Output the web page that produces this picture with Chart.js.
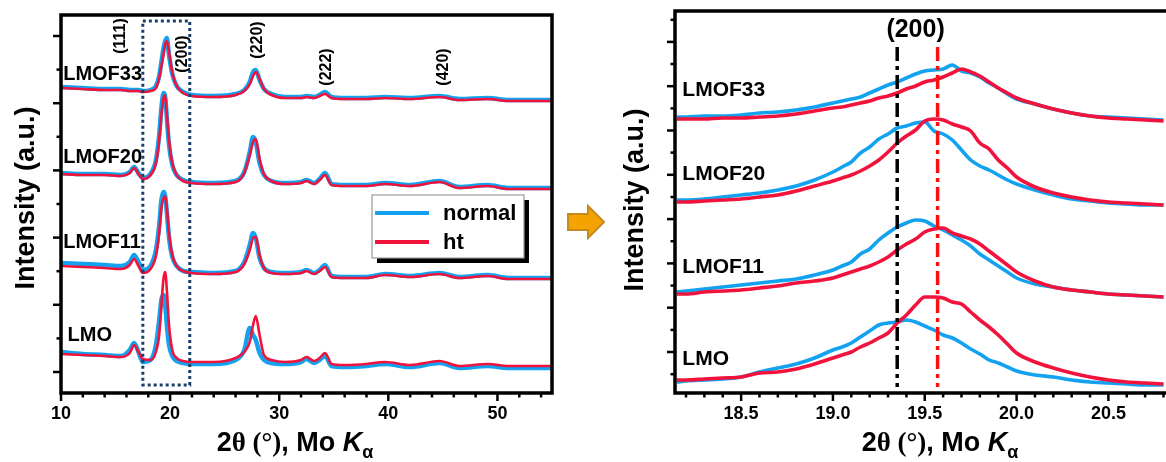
<!DOCTYPE html>
<html>
<head>
<meta charset="utf-8">
<script src="https://cdn.jsdelivr.net/npm/chart.js@4.4.0/dist/chart.umd.min.js"></script>
<style>
  html, body { margin: 0; padding: 0; background: #fff; overflow: hidden; }
  body { width: 1166px; height: 462px; position: relative; }
  #wrapL { position: absolute; left: 0; top: 0; width: 570px; height: 462px; }
  #wrapR { position: absolute; left: 600px; top: 0; width: 575px; height: 462px; }
  #arrow { position: absolute; left: 564px; top: 202px; z-index: 2; }
</style>
</head>
<body>
<div id="wrapL"><canvas id="xrdFull"></canvas></div>
<div id="wrapR"><canvas id="xrdZoom"></canvas></div>
<svg id="arrow" width="46" height="42" viewBox="0 0 46 42">
  <polygon points="4,12 24,12 24,4 40,20 24,36 24,28 4,28" fill="#f5a300" stroke="#c8891c" stroke-width="2"/>
</svg>

<script>
'use strict';

// ── Full pattern, 2θ = 10–55° ─────────────────────────────
const XL = [10, 12, 14, 15.5, 16.3, 16.7, 17.1, 17.5, 18.2, 18.7, 19.0, 19.2, 19.4, 19.55, 19.7,
  19.9, 20.2, 20.6, 21.2, 22, 24, 26, 26.8, 27.3, 27.6, 27.85, 28.2, 28.6, 29.3, 30.5,
  32, 32.5, 33.2, 33.7, 34.2, 34.8, 36, 38, 39.7, 42, 44.7, 46.5, 49.1, 51, 55];

const L_LMOF33_N  = [3060, 3050, 3040, 3040, 3030, 3030, 3030, 3020, 3030, 3070, 3170, 3310, 3450, 3520, 3550,
  3380, 3190, 3070, 3010, 2980, 2970, 2990, 3030, 3110, 3210, 3230, 3130, 3040, 2990, 2960,
  2960, 2970, 2960, 2980, 3010, 2960, 2950, 2950, 2960, 2950, 2970, 2940, 2950, 2930, 2930];
const L_LMOF33_HT = [3050, 3040, 3030, 3030, 3020, 3020, 3020, 3010, 3020, 3050, 3150, 3270, 3390, 3490, 3520,
  3410, 3200, 3070, 3000, 2970, 2960, 2980, 3020, 3090, 3170, 3210, 3140, 3040, 2980, 2950,
  2950, 2960, 2950, 2970, 2990, 2950, 2940, 2940, 2950, 2940, 2960, 2930, 2940, 2920, 2920];
const L_LMOF20_N  = [2200, 2190, 2190, 2180, 2210, 2260, 2200, 2150, 2190, 2330, 2580, 2850, 3000, 2960, 2750,
  2480, 2280, 2180, 2130, 2110, 2100, 2120, 2210, 2410, 2560, 2510, 2300, 2180, 2120, 2100,
  2110, 2130, 2100, 2140, 2200, 2090, 2080, 2080, 2100, 2080, 2120, 2060, 2080, 2050, 2050];
const L_LMOF20_HT = [2190, 2180, 2180, 2170, 2200, 2250, 2190, 2140, 2180, 2300, 2530, 2780, 2950, 2980, 2790,
  2530, 2300, 2180, 2120, 2100, 2090, 2110, 2200, 2380, 2510, 2540, 2340, 2190, 2120, 2090,
  2100, 2120, 2090, 2130, 2180, 2080, 2070, 2070, 2090, 2070, 2110, 2050, 2070, 2040, 2040];
const L_LMOF11_N  = [1300, 1290, 1280, 1270, 1310, 1380, 1310, 1230, 1270, 1430, 1680, 1930, 2010, 1970, 1810,
  1550, 1360, 1270, 1220, 1210, 1200, 1220, 1310, 1480, 1600, 1550, 1350, 1250, 1210, 1200,
  1210, 1230, 1200, 1230, 1280, 1170, 1160, 1160, 1190, 1170, 1200, 1160, 1180, 1150, 1150];
const L_LMOF11_HT = [1270, 1260, 1250, 1240, 1280, 1340, 1270, 1200, 1240, 1370, 1600, 1850, 1950, 1970, 1850,
  1600, 1380, 1270, 1220, 1200, 1190, 1210, 1290, 1430, 1550, 1560, 1380, 1250, 1200, 1190,
  1200, 1220, 1190, 1220, 1260, 1160, 1150, 1150, 1180, 1160, 1190, 1150, 1170, 1140, 1140];
const L_LMO_N     = [410, 390, 380, 370, 430, 500, 410, 310, 330, 480, 730, 930, 980, 880, 680,
  480, 370, 320, 300, 290, 290, 330, 430, 650, 580, 530, 400, 330, 300, 290,
  310, 340, 300, 330, 370, 270, 260, 270, 290, 260, 300, 250, 270, 250, 250];
const L_LMO_HT    = [390, 380, 370, 360, 400, 480, 410, 340, 330, 410, 580, 880, 1150, 1210, 1030,
  680, 430, 350, 320, 310, 310, 350, 410, 510, 680, 770, 580, 380, 330, 310,
  330, 360, 320, 350, 400, 290, 280, 290, 310, 280, 320, 270, 290, 270, 270];

// ── (200) region, 2θ = 18.15–20.8° ───────────────────────
const XR = [18.15, 18.2, 18.3, 18.4, 18.5, 18.6, 18.7, 18.8, 18.9,
  19.0, 19.05, 19.1, 19.15, 19.2, 19.25, 19.3, 19.35, 19.4, 19.45, 19.5,
  19.55, 19.6, 19.65, 19.7, 19.75, 19.8, 19.85, 19.9, 19.95, 20.0,
  20.1, 20.2, 20.3, 20.4, 20.5, 20.6, 20.7, 20.8];

const R_LMOF33_N  = [2760, 2760, 2770, 2770, 2780, 2800, 2810, 2830, 2860, 2900, 2920, 2940, 2960, 3000, 3040,
  3080, 3110, 3150, 3190, 3220, 3230, 3240, 3280, 3220, 3200, 3160, 3100, 3050, 2990, 2940,
  2890, 2840, 2800, 2770, 2760, 2750, 2740, 2730];
const R_LMOF33_HT = [2740, 2740, 2740, 2750, 2750, 2760, 2770, 2790, 2820, 2850, 2860, 2880, 2900, 2920, 2950,
  2970, 3000, 3040, 3070, 3110, 3130, 3160, 3200, 3240, 3210, 3170, 3110, 3050, 3000, 2950,
  2890, 2840, 2800, 2770, 2750, 2740, 2730, 2720];
const R_LMOF20_N  = [1930, 1930, 1940, 1960, 1980, 2000, 2030, 2070, 2130, 2210, 2260, 2310, 2400, 2460, 2540,
  2590, 2650, 2670, 2700, 2710, 2620, 2590, 2530, 2430, 2330, 2270, 2230, 2180, 2130, 2090,
  2030, 1980, 1940, 1920, 1900, 1890, 1880, 1880];
const R_LMOF20_HT = [1910, 1910, 1920, 1930, 1940, 1960, 1980, 2020, 2070, 2120, 2150, 2180, 2220, 2270, 2330,
  2410, 2500, 2570, 2630, 2720, 2740, 2730, 2690, 2660, 2620, 2500, 2440, 2330, 2250, 2160,
  2060, 2000, 1960, 1930, 1910, 1900, 1890, 1880];
const R_LMOF11_N  = [1010, 1020, 1040, 1060, 1080, 1100, 1120, 1140, 1180, 1230, 1270, 1310, 1390, 1440, 1530,
  1600, 1660, 1700, 1730, 1720, 1670, 1630, 1580, 1530, 1470, 1390, 1330, 1270, 1210, 1150,
  1090, 1060, 1030, 1010, 990, 980, 970, 960];
const R_LMOF11_HT = [990, 990, 1010, 1020, 1030, 1050, 1070, 1100, 1120, 1150, 1180, 1210, 1240, 1270, 1310,
  1360, 1430, 1490, 1540, 1610, 1640, 1650, 1600, 1570, 1540, 1490, 1420, 1350, 1280, 1210,
  1120, 1060, 1030, 1010, 990, 980, 970, 960];
const R_LMO_N     = [110, 120, 130, 140, 160, 210, 250, 290, 350, 430, 460, 500, 560, 620, 680,
  700, 710, 730, 710, 670, 630, 580, 550, 500, 440, 390, 330, 300, 260, 220,
  180, 160, 130, 110, 100, 90, 80, 80];
const R_LMO_HT    = [130, 130, 140, 150, 160, 200, 210, 240, 290, 350, 380, 410, 460, 500, 550,
  600, 700, 780, 880, 960, 960, 950, 910, 890, 810, 730, 660, 580, 490, 400,
  310, 250, 200, 160, 130, 110, 100, 90];

// ── Ticks ─────────────────────────────────────────────────
const L_X_MAJOR = [10, 20, 30, 40, 50];
const L_X_MINOR = [12, 14, 16, 18, 22, 24, 26, 28, 32, 34, 36, 38, 42, 44, 46, 48, 52, 54];
const L_Y_MAJOR = [210, 882, 1554, 2226, 2898, 3570];
const L_Y_MINOR = [546, 1218, 1890, 2562, 3234];
const R_X_MAJOR = [18.5, 19.0, 19.5, 20.0, 20.5];
const R_X_MINOR = [18.2, 18.3, 18.4, 18.6, 18.7, 18.8, 18.9, 19.1, 19.2, 19.3, 19.4,
  19.6, 19.7, 19.8, 19.9, 20.1, 20.2, 20.3, 20.4, 20.6, 20.7, 20.8];
const R_Y_MAJOR = [410, 853, 1296, 1739, 2182, 2625, 3068, 3511];
const R_Y_MINOR = [188, 631, 1074, 1518, 1960, 2404, 2846, 3290, 3732];

// ── Peak positions / reference lines ─────────────────────
const HKL_LABELS = ['(111)', '(200)', '(220)', '(222)', '(420)'];
const HKL_POS    = [15.5, 21.1, 28.0, 34.3, 45.1];
const HKL_Y      = [3570, 3390, 3530, 3260, 3260];
const REF_200    = [19.35, 19.57];      // normal, ht

const SAMPLES   = ['LMOF33', 'LMOF20', 'LMOF11', 'LMO'];
const L_LABEL_Y = [3190, 2360, 1510, 580];
const R_LABEL_Y = [3030, 2190, 1260, 340];

// ── Style ─────────────────────────────────────────────────
const BLUE  = '#12a2f0';
const RED   = '#f2133c';
const SANS  = '"Liberation Sans", Arial, sans-serif';
const SERIF = '"Liberation Serif", "Times New Roman", serif';

const X_TITLE = [
  ['2', `bold 27px ${SANS}`, 0],
  ['θ (°)', `bold 27px ${SERIF}`, 0],
  [', Mo ', `bold 27px ${SANS}`, 0],
  ['K', `italic bold 27px ${SANS}`, 0],
  ['α', `bold 18px ${SANS}`, 7]
];

function pts(xs, ys) {
  return xs.map((x, i) => ({ x, y: ys[i] }));
}

function series(xs, normal, ht, wN, wH) {
  const out = [];
  normal.forEach((ys, i) => {
    out.push({ label: 'ht', data: pts(xs, ht[i]), borderColor: RED, borderWidth: wH, order: 0 });
    out.push({ label: 'normal', data: pts(xs, ys), borderColor: BLUE, borderWidth: wN, order: 1 });
  });
  out.forEach(d => {
    d.pointRadius = 0;
    d.fill = false;
    d.cubicInterpolationMode = 'monotone';
  });
  return out;
}

// ── Frame, ticks, annotations, titles, legend ────────────
function makeDecor(o) {
  return {
    id: 'xrdDecor',
    afterDatasetsDraw(chart) {
      const { ctx, scales: { x, y } } = chart;
      ctx.save();
      (o.boxes || []).forEach(b => {
        const x0 = x.getPixelForValue(b.x0), x1 = x.getPixelForValue(b.x1);
        const y0 = y.getPixelForValue(b.y1), y1 = y.getPixelForValue(b.y0);
        ctx.strokeStyle = b.color;
        ctx.lineWidth = 3;
        ctx.setLineDash([3, 3]);
        ctx.strokeRect(x0, y0, x1 - x0, y1 - y0);
      });
      (o.vlines || []).forEach(l => {
        const px = x.getPixelForValue(l.x);
        ctx.strokeStyle = l.color;
        ctx.lineWidth = 3.5;
        ctx.setLineDash([14, 5, 4, 5]);
        ctx.beginPath();
        ctx.moveTo(px, y.getPixelForValue(l.y1));
        ctx.lineTo(px, y.getPixelForValue(l.y0));
        ctx.stroke();
      });
      ctx.restore();
    },
    afterDraw(chart) {
      const { ctx, chartArea: a, scales: { x, y } } = chart;
      ctx.save();
      ctx.setLineDash([]);
      ctx.strokeStyle = '#000';

      // box
      ctx.lineWidth = 3.5;
      ctx.strokeRect(a.left, a.top, a.right - a.left, a.bottom - a.top);

      // tick marks (outside)
      ctx.lineWidth = 2.5;
      const tick = (px, py, dx, dy) => {
        ctx.beginPath(); ctx.moveTo(px, py); ctx.lineTo(px + dx, py + dy); ctx.stroke();
      };
      o.xMajor.forEach(v => tick(x.getPixelForValue(v), a.bottom, 0, 8));
      o.xMinor.forEach(v => tick(x.getPixelForValue(v), a.bottom, 0, 4.5));
      o.yMajor.forEach(v => tick(a.left, y.getPixelForValue(v), -8, 0));
      o.yMinor.forEach(v => tick(a.left, y.getPixelForValue(v), -4.5, 0));

      // text notes in data coordinates
      ctx.fillStyle = '#000';
      (o.notes || []).forEach(n => {
        const px = x.getPixelForValue(n.x), py = y.getPixelForValue(n.y);
        ctx.font = n.font;
        ctx.textAlign = n.align || 'left';
        ctx.textBaseline = 'middle';
        if (n.rotate) {
          ctx.save();
          ctx.translate(px, py);
          ctx.rotate(-Math.PI / 2);
          ctx.fillText(n.text, 0, 0);
          ctx.restore();
        } else {
          ctx.fillText(n.text, px, py);
        }
      });

      // y title
      const yt = o.yTitle;
      ctx.save();
      ctx.translate(yt.cx, yt.cy);
      ctx.rotate(-Math.PI / 2);
      ctx.font = yt.font;
      ctx.textAlign = 'center';
      ctx.textBaseline = 'middle';
      ctx.fillText(yt.text, 0, 0);
      ctx.restore();

      // x title, mixed fonts
      const xt = o.xTitle;
      ctx.textAlign = 'left';
      ctx.textBaseline = 'alphabetic';
      let w = 0;
      X_TITLE.forEach(([t, f]) => { ctx.font = f; w += ctx.measureText(t).width; });
      let cx = xt.cx - w / 2;
      X_TITLE.forEach(([t, f, dy]) => {
        ctx.font = f;
        ctx.fillText(t, cx, xt.base + dy);
        cx += ctx.measureText(t).width;
      });

      // legend with drop shadow
      const lg = o.legend;
      if (lg) {
        ctx.fillStyle = '#000';
        ctx.fillRect(lg.left + 5, lg.top + 5, lg.width, lg.height);
        ctx.fillStyle = '#fff';
        ctx.fillRect(lg.left, lg.top, lg.width, lg.height);
        ctx.strokeStyle = '#9a9a9a';
        ctx.lineWidth = 1.2;
        ctx.strokeRect(lg.left, lg.top, lg.width, lg.height);
        const seen = [];
        chart.data.datasets.slice().sort((p, q) => q.order - p.order).forEach(d => {
          if (!seen.find(s => s.label === d.label)) seen.push(d);
        });
        seen.forEach((d, i) => {
          const ry = lg.top + 18 + i * 29;
          ctx.strokeStyle = d.borderColor;
          ctx.lineWidth = 4;
          ctx.beginPath(); ctx.moveTo(lg.left + 3, ry); ctx.lineTo(lg.left + 57, ry); ctx.stroke();
          ctx.fillStyle = '#000';
          ctx.font = `bold 22px ${SANS}`;
          ctx.textBaseline = 'middle';
          ctx.fillText(d.label, lg.left + 71, ry + 1);
        });
      }
      ctx.restore();
    }
  };
}

function chartOptions(c) {
  return {
    responsive: true,
    maintainAspectRatio: false,
    animation: false,
    devicePixelRatio: 1,
    layout: { padding: { top: c.padTop, right: c.padRight, left: 0, bottom: 0 } },
    plugins: { legend: { display: false }, tooltip: { enabled: false } },
    scales: {
      x: {
        type: 'linear', min: c.xMin, max: c.xMax,
        grid: { display: false, drawTicks: false },
        border: { display: false },
        afterBuildTicks: s => { s.ticks = c.xMajor.map(v => ({ value: v })); },
        afterFit: s => { s.height = 69; },
        ticks: {
          padding: 10, color: '#000', maxRotation: 0, autoSkip: false,
          font: { family: SANS, size: 18, weight: 'bold' },
          callback: c.xFmt
        }
      },
      y: {
        min: c.yMin, max: c.yMax,
        grid: { display: false, drawTicks: false },
        border: { display: false },
        ticks: { display: false },
        afterFit: s => { s.width = c.yWidth; }
      }
    }
  };
}

const labelFontL = `bold 20px ${SANS}`;
const labelFontR = `bold 21px ${SANS}`;

// ── Left: full pattern ───────────────────────────────────
new Chart(document.getElementById('xrdFull'), {
  type: 'line',
  data: {
    datasets: series(XL,
      [L_LMOF33_N, L_LMOF20_N, L_LMOF11_N, L_LMO_N],
      [L_LMOF33_HT, L_LMOF20_HT, L_LMOF11_HT, L_LMO_HT], 4.5, 2.6)
  },
  options: chartOptions({
    padTop: 15, padRight: 18, yWidth: 61,
    xMin: 10, xMax: 55, yMin: 0, yMax: 3780,
    xMajor: L_X_MAJOR,
    xFmt: v => String(v)
  }),
  plugins: [makeDecor({
    xMajor: L_X_MAJOR, xMinor: L_X_MINOR, yMajor: L_Y_MAJOR, yMinor: L_Y_MINOR,
    boxes: [{ x0: 17.5, x1: 21.8, y0: 80, y1: 3720, color: '#1b3f6b' }],
    notes: [
      ...SAMPLES.map((s, i) => ({ text: s, x: s === 'LMO' ? 10.6 : 10.2, y: L_LABEL_Y[i], font: labelFontL })),
      ...HKL_LABELS.map((t, i) => ({ text: t, x: HKL_POS[i], y: HKL_Y[i], font: `bold 16px ${SANS}`, align: 'center', rotate: true }))
    ],
    yTitle: { text: 'Intensity (a.u.)', cx: 27, cy: 198, font: `bold 27px ${SANS}` },
    xTitle: { cx: 295, base: 451 },
    legend: { left: 372, top: 195, width: 152, height: 63 }
  })]
});

// ── Right: (200) reflection ──────────────────────────────
new Chart(document.getElementById('xrdZoom'), {
  type: 'line',
  data: {
    datasets: series(XR,
      [R_LMOF33_N, R_LMOF20_N, R_LMOF11_N, R_LMO_N],
      [R_LMOF33_HT, R_LMOF20_HT, R_LMOF11_HT, R_LMO_HT], 3.6, 3.6)
  },
  options: chartOptions({
    padTop: 11, padRight: 6, yWidth: 75,
    xMin: 18.14, xMax: 20.83, yMin: 0, yMax: 3820,
    xMajor: R_X_MAJOR,
    xFmt: v => v.toFixed(1)
  }),
  plugins: [makeDecor({
    xMajor: R_X_MAJOR, xMinor: R_X_MINOR, yMajor: R_Y_MAJOR, yMinor: R_Y_MINOR,
    vlines: [
      { x: REF_200[0], y0: 60, y1: 3460, color: '#000' },
      { x: REF_200[1], y0: 60, y1: 3460, color: '#ff1010' }
    ],
    notes: [
      ...SAMPLES.map((s, i) => ({ text: s, x: 18.18, y: R_LABEL_Y[i], font: labelFontR })),
      { text: '(200)', x: 19.45, y: 3630, font: `bold 25px ${SANS}`, align: 'center' }
    ],
    yTitle: { text: 'Intensity (a.u.)', cx: 36, cy: 200, font: `bold 27px ${SANS}` },
    xTitle: { cx: 340, base: 451 }
  })]
});
</script>
</body>
</html>
